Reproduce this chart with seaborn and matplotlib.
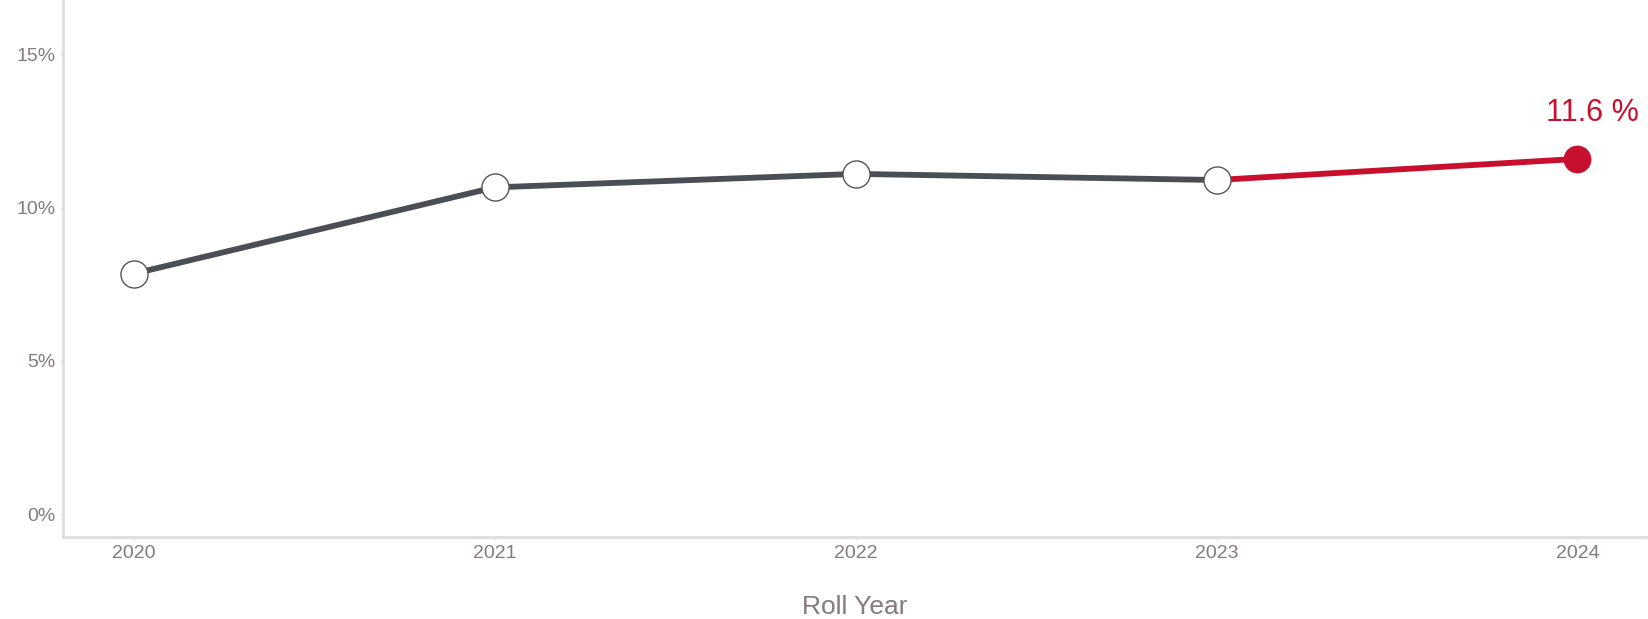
import matplotlib
matplotlib.use("Agg")
import matplotlib.pyplot as plt
import seaborn as sns
import pandas as pd
from matplotlib.ticker import FuncFormatter

years = [2020, 2021, 2022, 2023, 2024]
values = [7.85, 10.67, 11.11, 10.91, 11.60]
highlight_label = "11.6 %"
x_label = "Roll Year"
y_ticks = [0, 5, 10, 15]

sns.set_theme(style="white")
plt.rcParams['font.family'] = ['Liberation Sans', 'DejaVu Sans']

df = pd.DataFrame({"year": years, "value": values})
grey_df = df.iloc[:4]
red_df = df.iloc[3:]

GREY = "#4a4f55"
RED = "#c8102e"
TICK = "#857a7c"
SPINE = "#dedede"

fig = plt.figure(figsize=(16.49, 6.19), dpi=100)
ax = fig.add_axes([63/1649, (619-537)/619, (1646-63)/1649, 537/619])

sns.lineplot(data=grey_df, x="year", y="value", ax=ax, color=GREY, linewidth=4.2, zorder=2)
sns.lineplot(data=red_df, x="year", y="value", ax=ax, color=RED, linewidth=4.2, zorder=2)
sns.scatterplot(data=grey_df, x="year", y="value", ax=ax, s=19.5**2, color="white",
                edgecolor="#555555", linewidth=1.0, zorder=3)
sns.scatterplot(data=df.iloc[4:], x="year", y="value", ax=ax, s=19.5**2, color=RED,
                edgecolor=RED, linewidth=0.5, zorder=3)

ax.annotate(highlight_label, (years[-1], values[-1]), xytext=(11, 33), textcoords="offset points",
            ha="center", va="center", color=RED, fontsize=22)

ax.set_xlim(2019.804, 2024.19)
ax.set_ylim(-0.75, 16.79)
ax.set_xticks(years)
ax.set_xticklabels([str(y) for y in years])
ax.set_yticks(y_ticks)
ax.yaxis.set_major_formatter(FuncFormatter(lambda v, p: f"{v:.0f}%"))

ax.set_xlabel(x_label, fontsize=19, color=TICK, labelpad=24)
ax.set_ylabel("")

for s in ["top", "right"]:
    ax.spines[s].set_visible(False)
for s in ["left", "bottom"]:
    ax.spines[s].set_color(SPINE)
    ax.spines[s].set_linewidth(2)

ax.tick_params(axis="both", colors=SPINE, labelcolor=TICK, labelsize=14, length=2.5, width=1,
               left=True, bottom=True, pad=3)
ax.grid(False)

fig.savefig("out.png", dpi=100)
